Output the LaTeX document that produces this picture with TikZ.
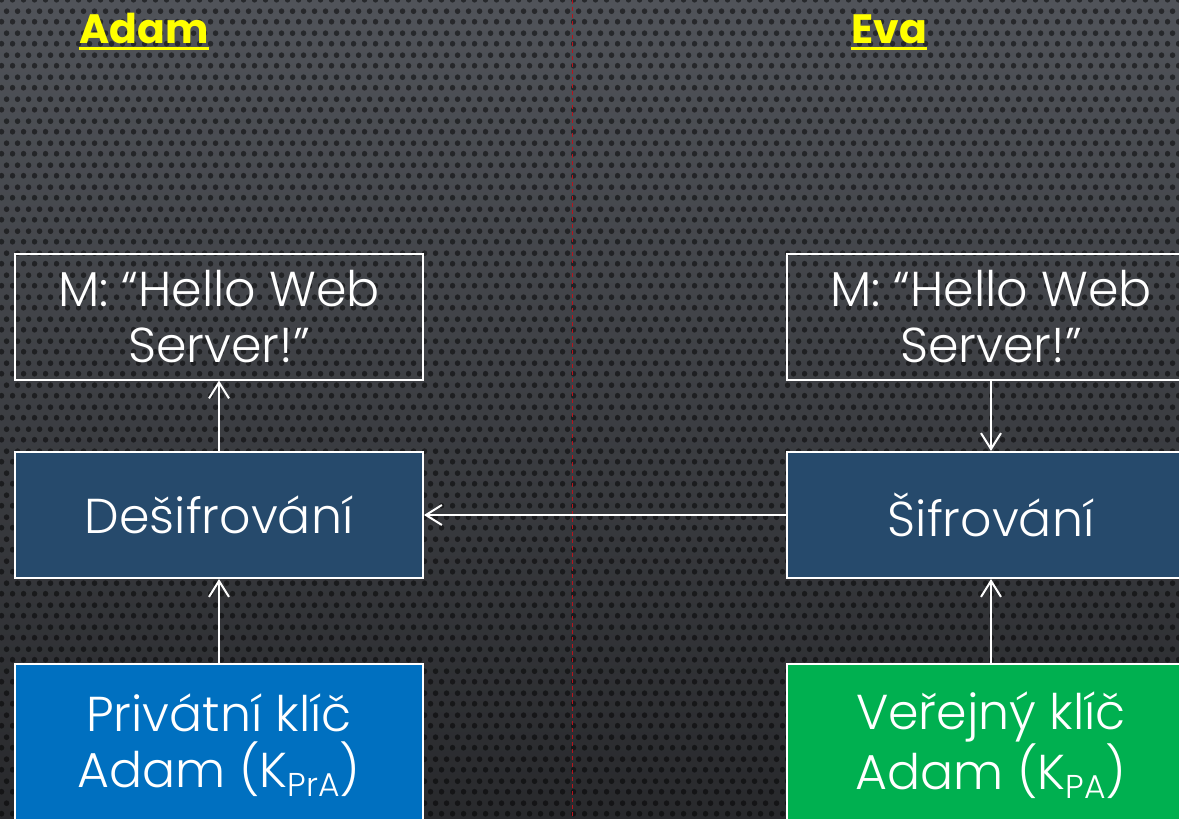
\documentclass[tikz,border=0pt]{standalone}
\usepackage{fontspec}
\IfFontExistsTF{Poppins Light}{\newfontfamily\boxfam{Poppins Light}}{\newfontfamily\boxfam{Poppins}}
\newfontfamily\ttlfam{Poppins}
\usetikzlibrary{arrows.meta,patterns.meta,calc}
\definecolor{midblue}{RGB}{38,74,108}
\definecolor{keyblue}{RGB}{0,112,192}
\definecolor{keygreen}{RGB}{0,176,80}
\definecolor{ttl}{RGB}{255,255,0}
\definecolor{sepred}{RGB}{180,20,30}
\definecolor{bgtop}{RGB}{80,83,89}
\definecolor{bgbot}{RGB}{40,41,44}
\tikzdeclarepattern{
  name=bgdots,
  type=uncolored,
  bottom left={(0pt,0pt)},
  top right={(11pt,22pt)},
  tile size={(11pt,22pt)},
  code={\fill (2.75pt,5.5pt) circle (3pt); \fill (8.25pt,16.5pt) circle (3pt);}
}
\newcommand{\subtxt}[1]{\raisebox{-9pt}{\fontsize{33}{33}\selectfont #1}}
\begin{document}
\begin{tikzpicture}[x=1pt,y=-1pt,
  box/.style={draw=white, line width=2pt, minimum width=408pt, minimum height=126pt,
    inner sep=0pt, text=white, align=center, font=\boxfam\fontsize{49}{56}\selectfont},
  keybox/.style={box, minimum height=162pt},
  conn/.style={draw=white, line width=2pt, -{Straight Barb[length=16pt,width=20pt]}},
  ttlstyle/.style={text=ttl, inner sep=0pt, anchor=base, font=\ttlfam\bfseries\fontsize{41}{41}\selectfont},
  uline/.style={draw=ttl, line width=3pt},
  sep/.style={draw=sepred, line width=0.9pt, dash pattern=on 4pt off 3pt}]
\useasboundingbox (0,0) rectangle (1179,819);
\shade[top color=bgtop, bottom color=bgbot] (0,0) rectangle (1179,819);
\fill[pattern=bgdots, pattern color=black, opacity=0.5] (0,0) rectangle (1179,819);
% separator
\coordinate (septop) at (572,0);
\coordinate (sepbot) at (572,819);
\draw[sep] (septop) -- (sepbot);
% titles
\node[ttlstyle] (adam) at (144,43) {Adam};
\node[ttlstyle] (eva) at (889,43) {Eva};
\draw[uline] ($(adam.base west)+(0,5.5)$) -- ($(adam.base east)+(0,5.5)$);
\draw[uline] ($(eva.base west)+(0,5.5)$) -- ($(eva.base east)+(0,5.5)$);
% left column
\node[box] (lm) at (219,316.5) {M: “Hello Web\\Server!”};
\node[box, fill=midblue] (ld) at (219,515) {Dešifrování};
\node[keybox, fill=keyblue] (lk) at (219,745) {Privátní klíč\\Adam (K\subtxt{PrA})};
% right column
\node[box] (rm) at (991,316.5) {M: “Hello Web\\Server!”};
\node[box, fill=midblue] (rd) at (991,515) {Šifrování};
\node[keybox, fill=keygreen] (rk) at (991,745) {Veřejný klíč\\Adam (K\subtxt{PA})};
% connectors
\draw[conn] (ld) -- (lm);
\draw[conn] (lk) -- (ld);
\draw[conn] (rm) -- (rd);
\draw[conn] (rk) -- (rd);
\draw[conn] (rd) -- (ld);
\end{tikzpicture}
\end{document}
